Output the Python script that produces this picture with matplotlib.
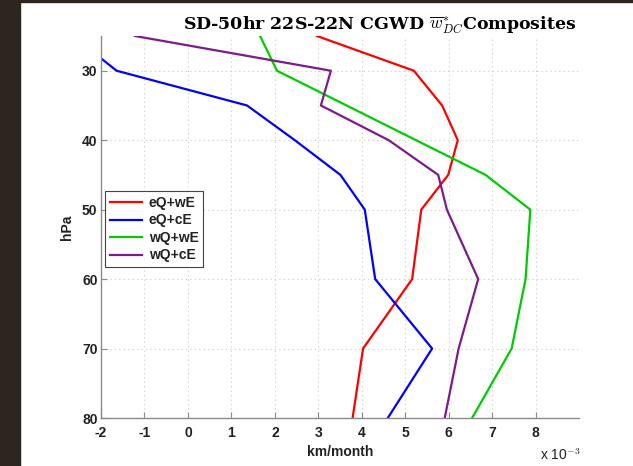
import matplotlib
matplotlib.use("Agg")
import matplotlib.pyplot as plt
from matplotlib.patches import Rectangle

plt.rcParams["mathtext.fontset"] = "cm"

# Pressure levels (hPa)
pressure = [25, 30, 35, 40, 45, 50, 60, 70, 80]

# CGWD composites, in units of 1e-3 km/month
eq_we = [2.97, 5.20, 5.85, 6.21, 5.99, 5.37, 5.16, 4.03, 3.79]
eq_ce = [-2.65, -1.64, 1.36, 2.46, 3.51, 4.07, 4.31, 5.62, 4.60]
wq_we = [1.66, 2.05, 3.65, 5.25, 6.85, 7.88, 7.77, 7.45, 6.54]
wq_ce = [-1.22, 3.29, 3.06, 4.62, 5.76, 5.96, 6.68, 6.23, 5.91]

series_labels = ["eQ+wE", "eQ+cE", "wQ+wE", "wQ+cE"]
series_colors = ["#ff0000", "#0000ff", "#00cc00", "#7d1a8c"]

x_ticks = [-2, -1, 0, 1, 2, 3, 4, 5, 6, 7, 8]
y_ticks = [30, 40, 50, 60, 70, 80]

W, H = 633, 466
fig = plt.figure(figsize=(W / 100, H / 100), dpi=100)
fig.patch.set_facecolor("white")

# dark frame strip on the left and top
fig.patches.append(Rectangle((0, 0), 20 / W, 1, transform=fig.transFigure,
                             color="#2d2620", zorder=0))
fig.patches.append(Rectangle((0, 1 - 1.5 / H), 1, 1.5 / H, transform=fig.transFigure,
                             color="#2d2620", zorder=0))

ax = fig.add_axes([101 / W, 48 / H, 478 / W, 382 / H])

for vals, lab, col in zip([eq_we, eq_ce, wq_we, wq_ce], series_labels, series_colors):
    ax.plot(vals, pressure, color=col, lw=1.6, label=lab, clip_on=True)

ax.set_xlim(-2, 9)
ax.set_ylim(80, 25)
ax.set_xticks(x_ticks)
ax.set_yticks(y_ticks)
ax.set_xticklabels([str(t) for t in x_ticks])
ax.set_yticklabels([str(t) for t in y_ticks])

for s in ["top", "right"]:
    ax.spines[s].set_visible(False)
for s in ["left", "bottom"]:
    ax.spines[s].set_color("#8a8a8a")
    ax.spines[s].set_linewidth(1.0)

ax.tick_params(direction="in", length=4, width=0.8, color="#8a8a8a",
               labelsize=10, labelcolor="#222222")
ax.tick_params(axis="x", pad=5.5)
ax.tick_params(axis="y", pad=2.5)
for lbl in ax.get_xticklabels() + ax.get_yticklabels():
    lbl.set_fontfamily("Liberation Sans")
    lbl.set_fontweight("bold")

ax.grid(True, linestyle=(0, (1, 3)), color="#c8c8c8", lw=0.8)
ax.set_axisbelow(True)

ax.set_ylabel("hPa", fontsize=10, fontweight="bold", family="Liberation Sans",
              color="#222222", labelpad=6)
ax.set_xlabel("km/month", fontsize=10, fontweight="bold", family="Liberation Sans",
              color="#222222", labelpad=4)

fig.text(560 / W, 1 - 455 / H, r"x 10$^{-3}$", fontsize=10, family="Liberation Sans",
         color="#222222", ha="center", va="center")

fig.text(380 / W, 1 - 30 / H, r"SD-50hr 22S-22N CGWD $\overline{w}^{*}_{DC}$Composites",
         fontsize=12.5, family="DejaVu Serif", fontweight="bold",
         ha="center", va="baseline", color="black")

leg = ax.legend(loc="upper left", bbox_to_anchor=(0.008, 0.594), fancybox=False,
                framealpha=1, edgecolor="#444444", handlelength=2.3,
                borderpad=0.35, labelspacing=0.25, handletextpad=0.5,
                borderaxespad=0,
                prop={"family": "Liberation Sans", "weight": "bold", "size": 10})
leg.get_frame().set_linewidth(0.8)
for t in leg.get_texts():
    t.set_color("#222222")

fig.savefig("out.png", dpi=100, facecolor="white")
